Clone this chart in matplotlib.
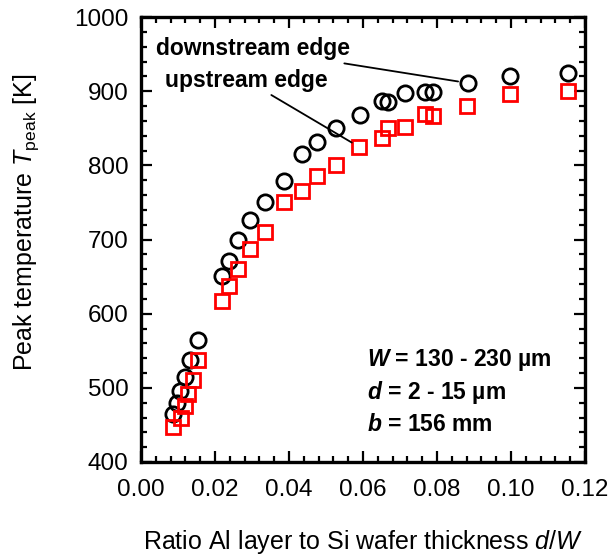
import matplotlib
matplotlib.use("Agg")
import matplotlib.pyplot as plt
from matplotlib.ticker import MultipleLocator, FormatStrFormatter

plt.rcParams["font.family"] = ["Liberation Sans", "DejaVu Sans"]
plt.rcParams["mathtext.fontset"] = "custom"
plt.rcParams["mathtext.rm"] = "Liberation Sans"
plt.rcParams["mathtext.it"] = "Liberation Sans:italic"
plt.rcParams["mathtext.bf"] = "Liberation Sans:bold"
plt.rcParams["mathtext.bfit"] = "Liberation Sans:italic:bold"

# Ratio d/W and peak temperature at the downstream edge (circles)
ratio_down = [0.0087, 0.0097, 0.0105, 0.0119, 0.0132, 0.0155,
              0.0218, 0.0239, 0.0263, 0.0295, 0.0334, 0.0386,
              0.0436, 0.0476, 0.0526, 0.0592, 0.0652, 0.0668,
              0.0714, 0.0768, 0.0790, 0.0883, 0.0997, 0.1154]
temp_down = [465, 480, 496, 514, 537, 565,
             651, 671, 700, 726, 750, 779,
             815, 832, 850, 868, 887, 886,
             897, 899, 899, 911, 920, 925]

# Same ratios, peak temperature at the upstream edge (squares)
ratio_up = [0.0086, 0.0107, 0.0119, 0.0128, 0.0140, 0.0155,
            0.0218, 0.0239, 0.0263, 0.0295, 0.0334, 0.0386,
            0.0436, 0.0475, 0.0526, 0.0589, 0.0652, 0.0668,
            0.0714, 0.0768, 0.0790, 0.0882, 0.0997, 0.1154]
temp_up = [447, 460, 475, 492, 511, 538,
           617, 637, 660, 687, 710, 750,
           765, 786, 800, 825, 837, 850,
           852, 869, 866, 880, 896, 900]

fig = plt.figure(figsize=(6.1, 5.58), dpi=100)
ax = fig.add_axes([141 / 610, 96 / 558, 444 / 610, 445 / 558])

ax.plot(ratio_down, temp_down, linestyle="none", marker="o", ms=11,
        mfc="none", mec="black", mew=2.0, clip_on=False, zorder=3)
ax.plot(ratio_up, temp_up, linestyle="none", marker="s", ms=9.5,
        mfc="none", mec="#ff0000", mew=2.0, clip_on=False, zorder=3)

ax.set_xlim(0, 0.12)
ax.set_ylim(400, 1000)
ax.xaxis.set_major_locator(MultipleLocator(0.02))
ax.xaxis.set_minor_locator(MultipleLocator(0.004))
ax.yaxis.set_major_locator(MultipleLocator(100))
ax.yaxis.set_minor_locator(MultipleLocator(20))
ax.xaxis.set_major_formatter(FormatStrFormatter("%.2f"))

for side in ax.spines.values():
    side.set_linewidth(2.4)
ax.tick_params(which="both", direction="in", top=True, right=True,
               width=1.6, labelsize=17.5)
ax.tick_params(which="major", length=8)
ax.tick_params(which="minor", length=4.5)
ax.tick_params(axis="x", which="major", pad=12)
ax.tick_params(axis="y", which="major", pad=9)

ax.set_xlabel(r"Ratio Al layer to Si wafer thickness $\mathit{d}/\mathit{W}$",
              fontsize=18)
ax.xaxis.set_label_coords(0.5, -0.148)
ax.set_ylabel(r"Peak temperature $\mathit{T}_{\mathrm{peak}}$ [K]",
              fontsize=18)
ax.yaxis.set_label_coords(-0.226, 0.539)

# Edge labels with leader lines to one point of each series
ax.annotate("downstream edge", xy=(ratio_down[21], temp_down[21]),
            xytext=(0.0041, 957), fontsize=16.5, fontweight="bold",
            va="center", ha="left",
            arrowprops=dict(arrowstyle="-", lw=1.3, color="black",
                            shrinkA=1, shrinkB=7))
ax.annotate("upstream edge", xy=(ratio_up[15], temp_up[15]),
            xytext=(0.0064, 915), fontsize=16.5, fontweight="bold",
            va="center", ha="left",
            arrowprops=dict(arrowstyle="-", lw=1.3, color="black",
                            shrinkA=1, shrinkB=6))

params = [r"$\mathbfit{W}$ = 130 - 230 µm",
          r"$\mathbfit{d}$ = 2 - 15 µm",
          r"$\mathbfit{b}$ = 156 mm"]
for i, line in enumerate(params):
    ax.text(0.0611, 537 - i * 43, line, fontsize=16.5, fontweight="bold",
            va="center", ha="left")

fig.savefig("out.png", dpi=100)
